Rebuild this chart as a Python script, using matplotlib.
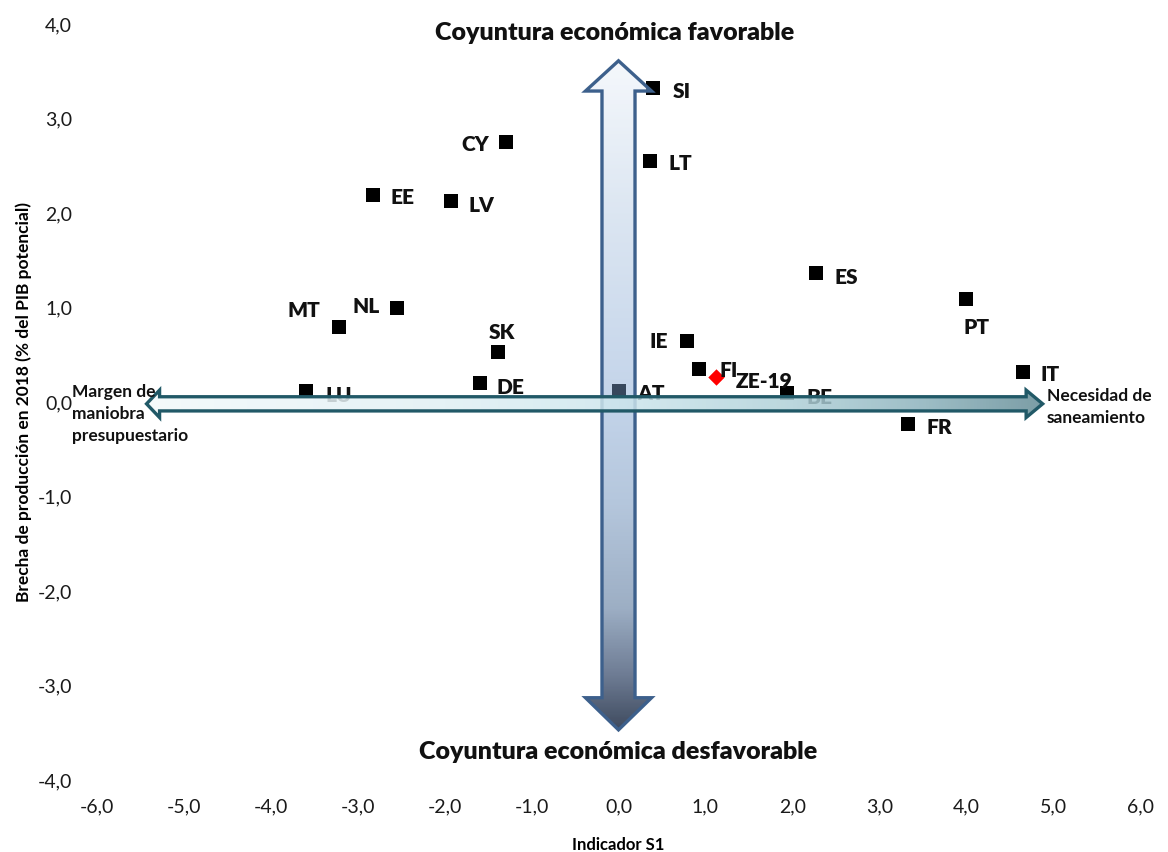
import numpy as np
import matplotlib
matplotlib.use("Agg")
import matplotlib.pyplot as plt
from matplotlib.patches import Polygon

plt.rcParams['font.family'] = ['Lato', 'DejaVu Sans']

# --- data -------------------------------------------------------------
countries = ["SI", "CY", "LT", "EE", "LV", "ES", "PT", "MT", "NL",
             "SK", "IE", "FI", "IT", "DE", "LU", "AT", "BE", "FR"]
indicador_s1 = [0.40, -1.30, 0.36, -2.83, -1.93, 2.27, 4.00, -3.22, -2.55,
                -1.39, 0.79, 0.93, 4.65, -1.59, -3.59, 0.00, 1.94, 3.33]
brecha_2018 = [3.31, 2.74, 2.54, 2.18, 2.12, 1.35, 1.08, 0.78, 0.98,
               0.52, 0.64, 0.34, 0.31, 0.19, 0.11, 0.11, 0.08, -0.24]

zona_label = "ZE-19"
zona_s1 = 1.12
zona_brecha = 0.25

x_ticks = [-6, -5, -4, -3, -2, -1, 0, 1, 2, 3, 4, 5, 6]
y_ticks = [-4, -3, -2, -1, 0, 1, 2, 3, 4]
x_ticklabels = [f"{v:.1f}".replace(".", ",") for v in x_ticks]
y_ticklabels = [f"{v:.1f}".replace(".", ",") for v in y_ticks]

# label placement (pixel offsets of label anchor from marker centre, alignment)
label_offsets = {
    "SI": (19, -1, "left"), "CY": (-16, 0, "right"), "LT": (19, -1, "left"),
    "EE": (18, -1, "left"), "LV": (18, -3, "left"), "ES": (19, -2, "left"),
    "PT": (10, -27, "center"), "MT": (-18, 19, "right"), "NL": (-17, 4, "right"),
    "SK": (4, 21, "center"), "IE": (-19, 1, "right"), "FI": (20, 0, "left"),
    "IT": (18, -1, "left"), "DE": (16, -2, "left"), "LU": (19, -3, "left"),
    "AT": (19, -1, "left"), "BE": (19, -2, "left"), "FR": (19, -2, "left"),
    "ZE-19": (20, -2, "left"),
}

# --- figure -----------------------------------------------------------
fig = plt.figure(figsize=(11.68, 8.53), dpi=100)
ax = fig.add_axes([97 / 1168, 73 / 853, (1140 - 97) / 1168, (780 - 24) / 853])
ax.set_xlim(-6, 6)
ax.set_ylim(-4, 4)
for sp in ax.spines.values():
    sp.set_visible(False)
ax.set_xticks(x_ticks)
ax.set_xticklabels(x_ticklabels)
ax.set_yticks(y_ticks)
ax.set_yticklabels(y_ticklabels)
ax.tick_params(axis='both', length=0, labelsize=14, colors='#1a1a1a')
ax.tick_params(axis='y', pad=18)
ax.tick_params(axis='x', pad=13)
ax.set_xlabel("Indicador S1", fontsize=12, fontweight='bold', labelpad=16)
ax.set_ylabel("Brecha de producción en 2018 (% del PIB potencial)",
              fontsize=12.5, fontweight='bold', labelpad=4)

# --- points and labels ------------------------------------------------
ax.scatter(indicador_s1, brecha_2018, marker='s', s=105, color='black',
           linewidths=0, zorder=2)
ax.scatter([zona_s1], [zona_brecha], marker='D', s=70, color='#ff0000',
           linewidths=0, zorder=2)

lbl_size = 15
cap_half = 7.5
for name, xv, yv in zip(countries + [zona_label],
                        indicador_s1 + [zona_s1], brecha_2018 + [zona_brecha]):
    dx, dy, ha = label_offsets[name]
    ax.annotate(name, (xv, yv), xytext=(dx, dy - cap_half),
                textcoords='offset pixels', ha=ha, va='baseline',
                fontsize=lbl_size, fontweight='heavy', color='#111111', zorder=2.5)

# --- vertical arrow (gradient, semi transparent) ------------------------
vs, vh = 0.19, 0.38
v_top, v_top_base = 3.60, 3.28
v_bot, v_bot_base = -3.48, -3.14
v_poly = [(-vs, v_top_base), (-vh, v_top_base), (0, v_top), (vh, v_top_base),
          (vs, v_top_base), (vs, v_bot_base), (vh, v_bot_base), (0, v_bot),
          (-vh, v_bot_base), (-vs, v_bot_base)]

ys = np.linspace(v_bot, v_top, 400)
stops_y = [-3.48, -2.9, -2.2, -1.1, 0.0, 2.0, 3.6]
stops_c = np.array([(62, 74, 94), (110, 124, 148), (156, 174, 196),
                    (180, 198, 220), (195, 212, 234), (220, 230, 242),
                    (245, 248, 252)], dtype=float)
disp = np.stack([np.interp(ys, stops_y, stops_c[:, k]) for k in range(3)], axis=1)
alpha = np.clip(np.maximum(0.45, 1 - disp.min(axis=1) / 255 + 0.03), 0, 1)
base = (disp - 255 * (1 - alpha[:, None])) / alpha[:, None]
base = np.clip(base, 0, 255) / 255
rgba = np.concatenate([base, alpha[:, None]], axis=1)
img_v = np.repeat(rgba[:, None, :], 2, axis=1)
v_patch = Polygon(v_poly, closed=True, facecolor='none', edgecolor='#3d608c',
                  linewidth=2.4, joinstyle='miter', zorder=3.1)
ax.add_patch(v_patch)
im_v = ax.imshow(img_v, extent=[-vh, vh, v_bot, v_top], origin='lower',
                 aspect='auto', interpolation='bilinear', zorder=3)
im_v.set_clip_path(v_patch)

# --- horizontal arrow -------------------------------------------------
hc = -0.03
hs, hh = 0.075, 0.145
h_left, h_left_base = -5.43, -5.28
h_right, h_right_base = 4.88, 4.69
h_poly = [(h_left, hc), (h_left_base, hc + hh), (h_left_base, hc + hs),
          (h_right_base, hc + hs), (h_right_base, hc + hh), (h_right, hc),
          (h_right_base, hc - hh), (h_right_base, hc - hs),
          (h_left_base, hc - hs), (h_left_base, hc - hh)]
xs = np.linspace(h_left, h_right, 400)
hstops_x = [-5.43, -2.0, 0.0, 2.0, 3.5, 4.88]
hstops_c = np.array([(243, 249, 251), (225, 240, 244), (205, 230, 237),
                     (175, 208, 216), (140, 178, 188), (100, 140, 150)],
                    dtype=float) / 255
hcols = np.stack([np.interp(xs, hstops_x, hstops_c[:, k]) for k in range(3)], axis=1)
hrgba = np.concatenate([hcols, np.full((len(xs), 1), 0.85)], axis=1)
img_h = np.repeat(hrgba[None, :, :], 2, axis=0)
h_patch = Polygon(h_poly, closed=True, facecolor='none', edgecolor='#215967',
                  linewidth=2.4, joinstyle='miter', zorder=4.1)
ax.add_patch(h_patch)
im_h = ax.imshow(img_h, extent=[h_left, h_right, hc - hh, hc + hh], origin='lower',
                 aspect='auto', interpolation='bilinear', zorder=4)
im_h.set_clip_path(h_patch)

ax.set_xlim(-6, 6)
ax.set_ylim(-4, 4)

# --- annotations ------------------------------------------------------
ax.text(-0.05, 3.90, "Coyuntura económica favorable", ha='center', va='center',
        fontsize=18, fontweight='heavy', color='#111111', zorder=5)
ax.text(0.0, -3.70, "Coyuntura económica desfavorable", ha='center', va='center',
        fontsize=18, fontweight='heavy', color='#111111', zorder=5)
fig.text(72 / 1168, 1 - 414 / 853, "Margen de\nmaniobra\npresupuestario",
         ha='left', va='center', fontsize=12.5, fontweight='bold',
         color='#111111', linespacing=1.47, zorder=6)
fig.text(1047 / 1168, 1 - 407 / 853, "Necesidad de\nsaneamiento",
         ha='left', va='center', fontsize=12.5, fontweight='bold',
         color='#111111', linespacing=1.5, zorder=6)

fig.savefig("out.png", dpi=100)
